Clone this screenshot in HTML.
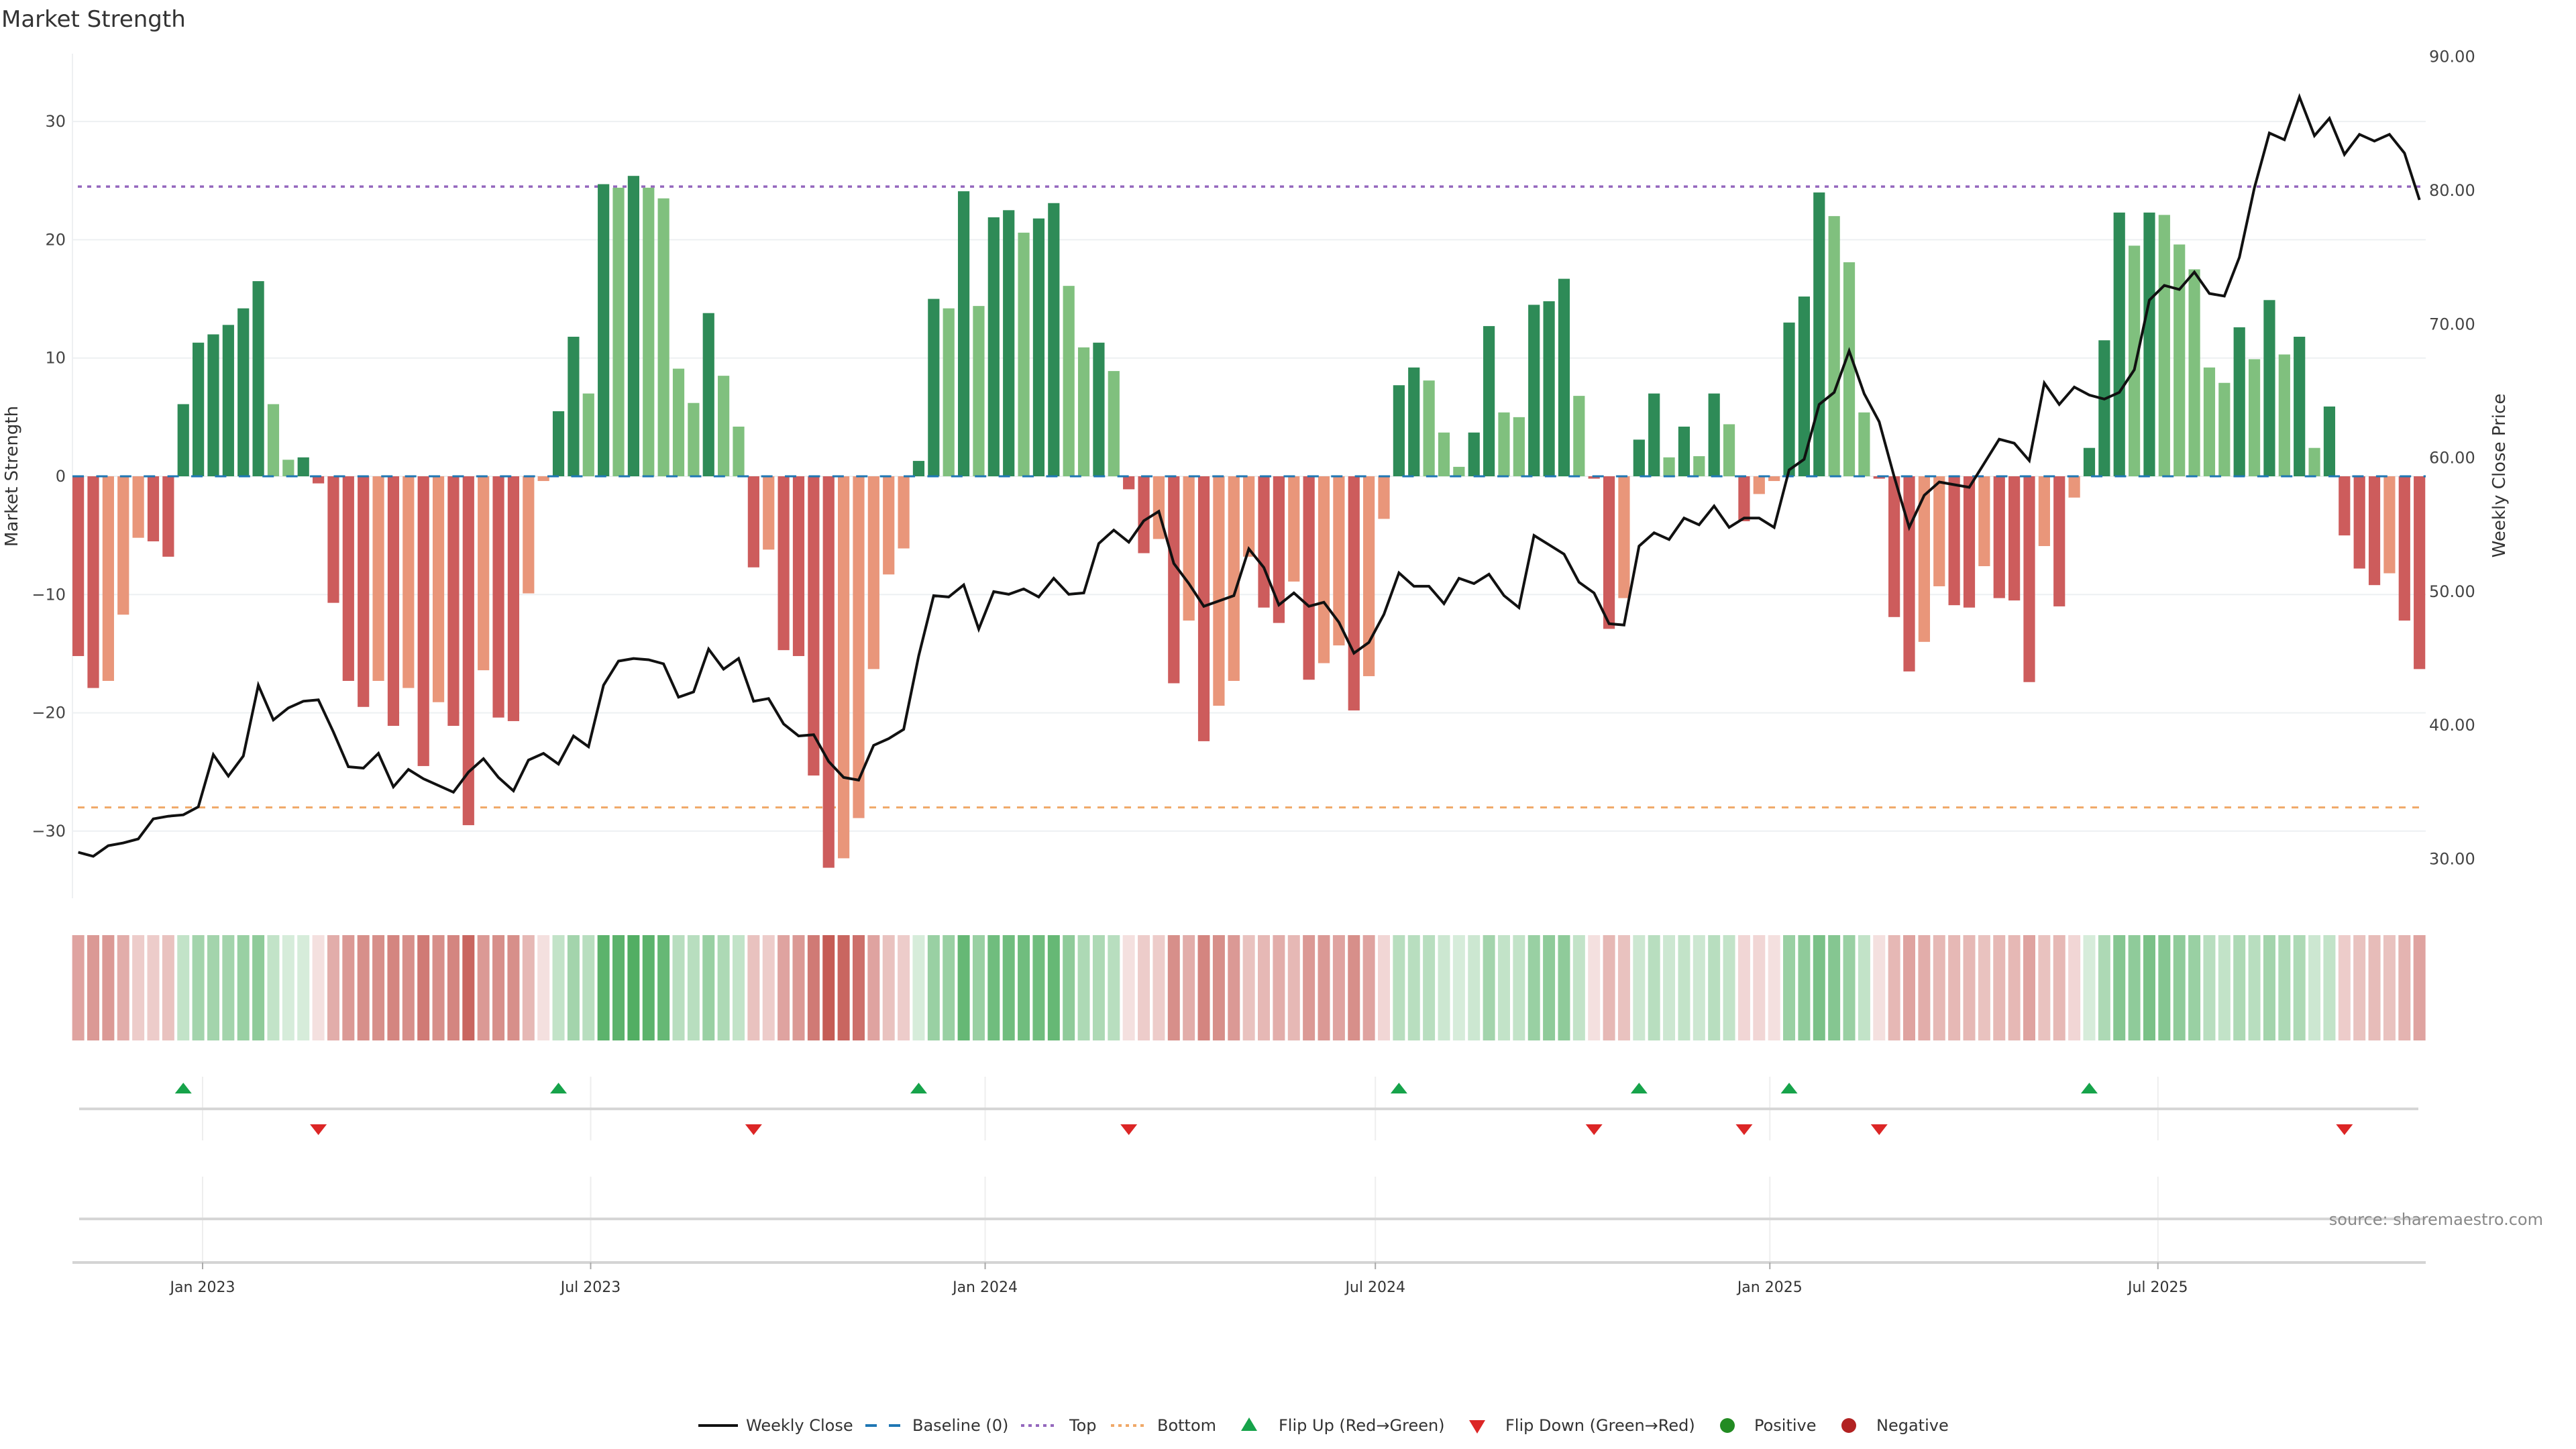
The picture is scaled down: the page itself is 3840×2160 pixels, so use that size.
<!DOCTYPE html>
<html><head><meta charset="utf-8"><title>Market Strength</title>
<style>
html,body{margin:0;padding:0;background:#fff;}
svg{display:block;font-family:"DejaVu Sans","Liberation Sans",sans-serif;}
</style></head>
<body>
<svg id="chart" width="3840" height="2160" viewBox="0 0 3840 2160" xmlns="http://www.w3.org/2000/svg">
  <rect x="0" y="0" width="3840" height="2160" fill="#ffffff"/>
  <text x="2" y="40" font-size="34" fill="#333">Market Strength</text>
  <g id="grid"></g>
  <g id="refs"></g>
  <g id="bars"></g>
  <g id="baseline"></g>
  <g id="price"></g>
  <g id="strip"></g>
  <g id="markers"></g>
  <g id="axes"></g>
  <text x="3791" y="1826" font-size="24" fill="#888" text-anchor="end">source: sharemaestro.com</text>
  <g id="legend"></g>
</svg>
<script>
const startDate = "2022-11-04";
const strength = [-15.2,-17.9,-17.3,-11.7,-5.2,-5.5,-6.8,6.1,11.3,12.0,12.8,14.2,16.5,6.1,1.4,1.6,-0.6,-10.7,-17.3,-19.5,-17.3,-21.1,-17.9,-24.5,-19.1,-21.1,-29.5,-16.4,-20.4,-20.7,-9.9,-0.4,5.5,11.8,7.0,24.7,24.4,25.4,24.4,23.5,
9.1,6.2,13.8,8.5,4.2,-7.7,-6.2,-14.7,-15.2,-25.3,-33.1,-32.3,-28.9,-16.3,-8.3,-6.1,1.3,15.0,14.2,24.1,14.4,21.9,22.5,20.6,21.8,23.1,16.1,10.9,11.3,8.9,-1.1,-6.5,-5.3,-17.5,-12.2,-22.4,-19.4,-17.3,
-6.8,-11.1,-12.4,-8.9,-17.2,-15.8,-14.3,-19.8,-16.9,-3.6,7.7,9.2,8.1,3.7,0.8,3.7,12.7,5.4,5.0,14.5,14.8,16.7,6.8,-0.2,-12.9,-10.3,3.1,7.0,1.6,4.2,1.7,7.0,4.4,-3.8,-1.5,-0.4,13.0,15.2,
24.0,22.0,18.1,5.4,-0.2,-11.9,-16.5,-14.0,-9.3,-10.9,-11.1,-7.6,-10.3,-10.5,-17.4,-5.9,-11.0,-1.8,2.4,11.5,22.3,19.5,22.3,22.1,19.6,17.5,9.2,7.9,12.6,9.9,14.9,10.3,11.8,2.4,5.9,-5.0,-7.8,-9.2,-8.2,-12.2,-16.3];
const closes = [30.5,30.2,31.0,31.2,31.5,33.0,33.2,33.3,33.9,37.8,36.2,37.7,43.0,40.4,41.3,41.8,41.9,39.5,36.9,36.8,37.9,35.4,36.7,36.0,35.5,35.0,36.5,37.5,36.1,35.1,37.4,37.9,37.1,39.2,38.4,43.0,44.8,45.0,44.9,44.6,
42.1,42.5,45.7,44.2,45.0,41.8,42.0,40.1,39.2,39.3,37.3,36.1,35.9,38.5,39.0,39.7,45.2,49.7,49.6,50.5,47.2,50.0,49.8,50.2,49.6,51.0,49.8,49.9,53.6,54.6,53.7,55.3,56.0,52.1,50.6,48.9,49.3,49.7,
53.2,51.8,49.0,49.9,48.9,49.2,47.7,45.4,46.2,48.3,51.4,50.4,50.4,49.1,51.0,50.6,51.3,49.7,48.8,54.2,53.5,52.8,50.7,49.9,47.6,47.5,53.4,54.4,53.9,55.5,55.0,56.4,54.8,55.5,55.5,54.8,59.1,59.9,
64.0,64.9,68.0,64.8,62.7,58.6,54.8,57.2,58.2,58.0,57.8,59.6,61.4,61.1,59.8,65.6,64.0,65.3,64.7,64.4,64.9,66.6,71.8,72.9,72.6,73.9,72.3,72.1,75.0,80.2,84.3,83.8,87.0,84.1,85.4,82.7,84.2,83.7,84.2,82.8,79.3];
const heat = [-.45,-.5,-.5,-.4,-.25,-.25,-.3,.3,.45,.45,.45,.5,.55,.3,.2,.2,-.15,-.4,-.5,-.55,-.55,-.6,-.55,-.65,-.55,-.6,-.75,-.5,-.55,-.55,-.35,-.15,.3,.45,.35,.8,.8,.85,.8,.75,
.35,.35,.5,.4,.3,-.3,-.25,-.45,-.5,-.65,-.8,-.75,-.7,-.45,-.3,-.25,.2,.5,.5,.75,.5,.7,.7,.7,.7,.75,.55,.4,.4,.35,-.15,-.25,-.25,-.55,-.4,-.6,-.55,-.5,
-.3,-.35,-.4,-.35,-.5,-.5,-.45,-.55,-.45,-.2,.35,.35,.35,.25,.2,.25,.45,.3,.3,.5,.55,.55,.3,-.15,-.35,-.3,.25,.35,.25,.3,.25,.35,.3,-.2,-.2,-.15,.5,.55,
.65,.6,.5,.3,-.15,-.35,-.45,-.4,-.35,-.35,-.35,-.3,-.35,-.35,-.45,-.3,-.35,-.2,.2,.4,.6,.55,.65,.6,.55,.5,.35,.3,.4,.35,.45,.4,.4,.25,.3,-.25,-.3,-.33,-.3,-.37,-.45];
const topLevel = 24.5;
const bottomLevel = -28;
const leftTicks = [-30,-20,-10,0,10,20,30];
const leftTickLabels = ["\u221230","\u221220","\u221210","0","10","20","30"];
const rightTicks = [30,40,50,60,70,80,90];
const rightTickLabels = ["30.00","40.00","50.00","60.00","70.00","80.00","90.00"];
const xTickDates = ["2023-01-01","2023-07-01","2024-01-01","2024-07-01","2025-01-01","2025-07-01"];
const xTickLabels = ["Jan 2023","Jul 2023","Jan 2024","Jul 2024","Jan 2025","Jul 2025"];

const NS = "http://www.w3.org/2000/svg";
const PL = 108, PR = 3616;
const DAY = 86400000, ORIGIN = Date.UTC(2023,0,1);
function xDate(d){ const t = (typeof d === "string") ? Date.parse(d+"T00:00:00Z") : d; return 302 + (t-ORIGIN)/DAY*3.196; }
function barDate(i){ return Date.parse(startDate+"T00:00:00Z") + i*7*DAY; }
function xBar(i){ return xDate(barDate(i)); }
function yL(v){ return 710 - v*17.63; }
function yR(p){ return 84.7 + (90-p)*19.93; }
function mk(tag, attrs, parent){ const e = document.createElementNS(NS, tag); for (const k in attrs) e.setAttribute(k, attrs[k]); parent.appendChild(e); return e; }
function lerp(a,b,t){ return Math.round(a+(b-a)*t); }
function heatColor(v){
  const t = Math.min(1, Math.abs(v));
  const c = v >= 0 ? [51,160,71] : [183,51,43];
  return "rgb("+lerp(255,c[0],t)+","+lerp(255,c[1],t)+","+lerp(255,c[2],t)+")";
}

const gGrid = document.getElementById("grid");
leftTicks.forEach(function(v){
  const l = mk("line",{x1:PL,x2:PR,y1:yL(v),y2:yL(v),stroke:"#edf0f2","stroke-width":2},gGrid);
  
  
});
{
  const l = mk("line",{x1:PL,x2:PL,y1:80,y2:1339,stroke:"#eef0f2","stroke-width":2},gGrid);
  
  
}
xTickDates.forEach(function(d){
  const x = xDate(d);
  const a = mk("line",{x1:x,x2:x,y1:1605,y2:1700,stroke:"#eeeeee","stroke-width":2},gGrid);
  
  
  const b = mk("line",{x1:x,x2:x,y1:1754,y2:1881,stroke:"#eeeeee","stroke-width":2},gGrid);
  
  
});

const gRefs = document.getElementById("refs");
{
  const t = mk("line",{x1:PL+8,x2:PR,y1:yL(topLevel),y2:yL(topLevel),stroke:"#9467bd","stroke-width":3.5,"stroke-dasharray":"6,8"},gRefs);
  
  
  const b = mk("line",{x1:PL+8,x2:PR,y1:yL(bottomLevel),y2:yL(bottomLevel),stroke:"#f0a868","stroke-width":3,"stroke-dasharray":"10,10"},gRefs);
  
  
}

const gBars = document.getElementById("bars");
const BW = 17.2;
strength.forEach(function(v,i){
  const prev = i>0 ? strength[i-1] : 0;
  const grow = (i===0) || (Math.sign(prev)!==Math.sign(v)) || Math.abs(v) >= Math.abs(prev);
  let fill;
  if (v >= 0) fill = grow ? "#2e8b57" : "#80c07e"; else fill = grow ? "#cd5c5c" : "#e9967a";
  const y0 = yL(0), y1 = yL(v);
  const r = mk("rect",{x:xBar(i)-BW/2,y:Math.min(y0,y1),width:BW,height:Math.max(1,Math.abs(y1-y0)),fill:fill},gBars);
  
  
});

const gBase = document.getElementById("baseline");
{
  const l = mk("line",{x1:xBar(0)-BW/2,x2:PR,y1:yL(0),y2:yL(0),stroke:"#1f77b4","stroke-width":3,"stroke-dasharray":"17,18.4"},gBase);
  
  
}

const gPrice = document.getElementById("price");
{
  const pts = closes.map(function(p,i){ return xBar(i).toFixed(1)+","+yR(p).toFixed(1); }).join(" ");
  const pl = mk("polyline",{points:pts,fill:"none",stroke:"#111","stroke-width":4,"stroke-linejoin":"miter"},gPrice);
  
  
}

const gStrip = document.getElementById("strip");
heat.forEach(function(v,i){
  const r = mk("rect",{x:xBar(i)-9,y:1394,width:18,height:157,fill:heatColor(v)},gStrip);
  
  
});

const gMk = document.getElementById("markers");
{
  const l = mk("line",{x1:118,x2:3605,y1:1653,y2:1653,stroke:"#d6d6d6","stroke-width":4},gMk);
  
  
  const l2 = mk("line",{x1:118,x2:3616,y1:1817,y2:1817,stroke:"#d6d6d6","stroke-width":4},gMk);
  
  
}
strength.forEach(function(v,i){
  if (i===0) return;
  const p = strength[i-1];
  const x = xBar(i);
  if (p < 0 && v >= 0) {
    const t = mk("polygon",{points:(x-12.5)+",1630 "+(x+12.5)+",1630 "+x+",1614",fill:"#16a34a"},gMk);
    
    
  } else if (p >= 0 && v < 0) {
    const t = mk("polygon",{points:(x-12.5)+",1676 "+(x+12.5)+",1676 "+x+",1692",fill:"#dc2626"},gMk);
    
    
  }
});

const gAx = document.getElementById("axes");
leftTicks.forEach(function(v,k){
  const t = mk("text",{x:98,y:yL(v)+8,"font-size":24,fill:"#444","text-anchor":"end"},gAx);
  t.textContent = leftTickLabels[k];
  
  
});
rightTicks.forEach(function(v,k){
  const t = mk("text",{x:3621,y:yR(v)+8,"font-size":24,fill:"#444"},gAx);
  t.textContent = rightTickLabels[k];
  
  
});
{
  const a = mk("text",{x:0,y:0,"font-size":26,fill:"#333","text-anchor":"middle",transform:"translate(26,710) rotate(-90)"},gAx);
  a.textContent = "Market Strength";
  
  
  const b = mk("text",{x:0,y:0,"font-size":26,fill:"#333","text-anchor":"middle",transform:"translate(3734,709) rotate(-90)"},gAx);
  b.textContent = "Weekly Close Price";
  
  
  const ax = mk("line",{x1:PL,x2:PR,y1:1882,y2:1882,stroke:"#d4d4d4","stroke-width":4},gAx);
  
  
}
xTickDates.forEach(function(d,k){
  const x = xDate(d);
  const tk = mk("line",{x1:x,x2:x,y1:1882,y2:1892,stroke:"#aaa","stroke-width":2},gAx);
  
  
  const t = mk("text",{x:x,y:1926,"font-size":22,fill:"#333","text-anchor":"middle"},gAx);
  t.textContent = xTickLabels[k];
  
  
});

const gLeg = document.getElementById("legend");
const LY = 2125;
function legText(x, s){
  const t = mk("text",{x:x,y:LY+8,"font-size":24,fill:"#333"},gLeg);
  t.textContent = s;
  
  
}
{
  let e;
  e = mk("line",{x1:1041,x2:1100,y1:LY,y2:LY,stroke:"#111","stroke-width":4},gLeg);
  
  
  legText(1112,"Weekly Close");
  e = mk("line",{x1:1290,x2:1344,y1:LY,y2:LY,stroke:"#1f77b4","stroke-width":4,"stroke-dasharray":"17,18"},gLeg);
  
  
  legText(1360,"Baseline (0)");
  e = mk("line",{x1:1522,x2:1577,y1:LY,y2:LY,stroke:"#9467bd","stroke-width":4,"stroke-dasharray":"5,6"},gLeg);
  
  
  legText(1594,"Top");
  e = mk("line",{x1:1656,x2:1710,y1:LY,y2:LY,stroke:"#f0a868","stroke-width":4,"stroke-dasharray":"5,6"},gLeg);
  
  
  legText(1725,"Bottom");
  e = mk("polygon",{points:"1850,2133 1874,2133 1862,2113",fill:"#16a34a"},gLeg);
  
  
  legText(1906,"Flip Up (Red\u2192Green)");
  e = mk("polygon",{points:"2190,2117 2214,2117 2202,2137",fill:"#dc2626"},gLeg);
  
  
  legText(2244,"Flip Down (Green\u2192Red)");
  e = mk("circle",{cx:2575,cy:LY,r:11,fill:"#228b22"},gLeg);
  
  
  legText(2615,"Positive");
  e = mk("circle",{cx:2756,cy:LY,r:11,fill:"#b22222"},gLeg);
  
  
  legText(2797,"Negative");
}
</script>
</body></html>
